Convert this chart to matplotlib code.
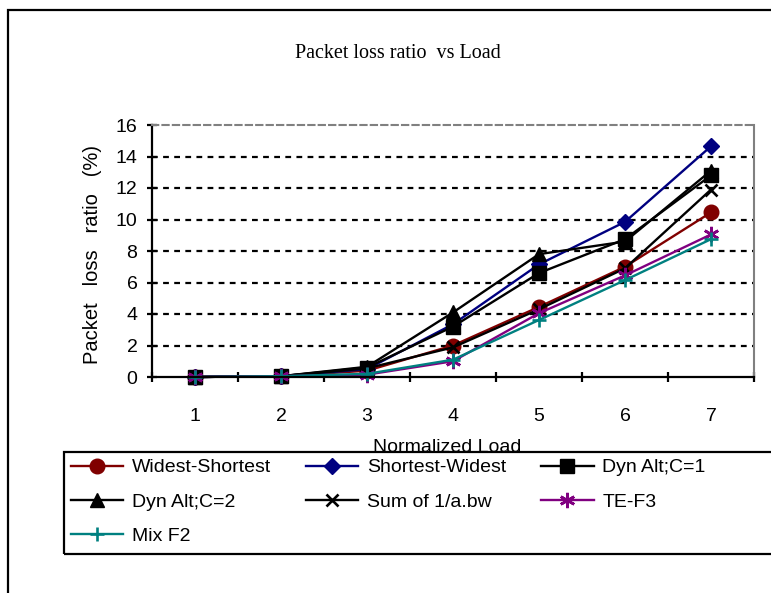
import matplotlib
matplotlib.use("Agg")
import matplotlib.pyplot as plt
from matplotlib.patches import Rectangle

loads = [1, 2, 3, 4, 5, 6, 7]
tick_labels = ["1", "2", "3", "4", "5", "6", "7"]
widest_shortest = [0, 0.05, 0.4, 2.0, 4.45, 7.0, 10.45]
shortest_widest = [0, 0.05, 0.5, 3.35, 7.15, 9.85, 14.65]
dyn_alt_c1 = [0, 0.05, 0.6, 3.2, 6.6, 8.75, 12.8]
dyn_alt_c2 = [0, 0.05, 0.65, 4.1, 7.8, 8.6, 13.1]
sum_inv_bw = [0, 0.05, 0.55, 1.88, 4.3, 6.9, 11.9]
te_f3 = [0, 0.05, 0.15, 1.0, 4.05, 6.45, 9.05]
mix_f2 = [0, 0.05, 0.2, 1.1, 3.62, 6.15, 8.75]

series_names = ["Widest-Shortest", "Shortest-Widest", "Dyn Alt;C=1",
                "Dyn Alt;C=2", "Sum of 1/a.bw", "TE-F3", "Mix F2"]

plt.rcParams['font.family'] = ['Liberation Sans', 'DejaVu Sans']

W, H = 771, 593
fig = plt.figure(figsize=(W / 100, H / 100), dpi=100)

# outer chart border (extends beyond right/bottom edges)
fig.patches.append(Rectangle((8 / W, -0.1), 1.2, 1 - 10 / H + 0.1, transform=fig.transFigure,
                             fill=False, edgecolor='black', linewidth=1.6))

ax = fig.add_axes([152 / W, 1 - 377 / H, (754 - 152) / W, (377 - 125) / H])

styles = [
    dict(color='#800000', marker='o', ms=10.5, mfc='#800000', mec='#800000'),
    dict(color='#000080', marker='D', ms=8.5, mfc='#000080', mec='#000080'),
    dict(color='black', marker='s', ms=10, mfc='black', mec='black'),
    dict(color='black', marker='^', ms=10.5, mfc='black', mec='black'),
    dict(color='black', marker='x', ms=9, mew=1.9),
    dict(color='#800080', marker=(6, 2, 0), ms=11, mew=1.9),
    dict(color='#008080', marker='+', ms=10, mew=1.9),
]
data = [widest_shortest, shortest_widest, dyn_alt_c1, dyn_alt_c2, sum_inv_bw, te_f3, mix_f2]
handles = []
for vals, name, st in zip(data, series_names, styles):
    h, = ax.plot(loads, vals, lw=1.7, label=name, clip_on=False, **st)
    handles.append(h)

ax.set_xlim(0.5, 7.5)
ax.set_ylim(0, 16)
ax.set_yticks(range(0, 17, 2))
ax.set_xticks(loads)
ax.set_xticklabels(tick_labels)
ax.set_xticks([x + 0.5 for x in range(0, 8)], minor=True)
ax.tick_params(axis='x', which='major', length=0, pad=22, labelsize=14)
ax.tick_params(axis='x', which='minor', direction='inout', length=7, width=1.6)
ax.tick_params(axis='y', direction='inout', length=7, width=1.6, pad=7, labelsize=14)

for y in range(2, 16, 2):
    ax.axhline(y, color='black', lw=1.6, ls=(0, (2.6, 2.4)), zorder=0)

ax.spines['left'].set_linewidth(1.6)
ax.spines['bottom'].set_linewidth(1.6)
ax.spines['top'].set_color('#808080')
ax.spines['top'].set_linestyle((0, (3, 2)))
ax.spines['top'].set_linewidth(1.5)
ax.spines['right'].set_color('#808080')
ax.spines['right'].set_linewidth(1.5)

ax.set_xlabel("Normalized Load", fontsize=14)
ax.xaxis.set_label_coords(0.49, -(447 - 377) / (377 - 125))
ax.xaxis.label.set_va('center')

fig.text(93 / W, 1 - 255 / H, "Packet   loss   ratio   (%)", rotation=90,
         ha='center', va='center', fontsize=14.5)

fig.text(398 / W, 1 - 53 / H, "Packet loss ratio  vs Load", ha='center', va='center',
         fontsize=14.5, family=['Liberation Serif', 'DejaVu Serif'])

# legend frame
fig.patches.append(Rectangle((64 / W, 1 - 554 / H), 1.0, (554 - 452) / H, transform=fig.transFigure,
                             fill=False, edgecolor='black', linewidth=1.6))

order = [0, 3, 6, 1, 4, 2, 5]
leg = fig.legend([handles[i] for i in order], [series_names[i] for i in order],
                 ncol=3, loc='upper left', bbox_to_anchor=(64 / W, 1 - 452 / H),
                 frameon=False, fontsize=14, handlelength=2.68, handletextpad=0.46,
                 columnspacing=1.8, labelspacing=0.86, borderpad=0.35, borderaxespad=0)

fig.savefig("out.png", dpi=100)
